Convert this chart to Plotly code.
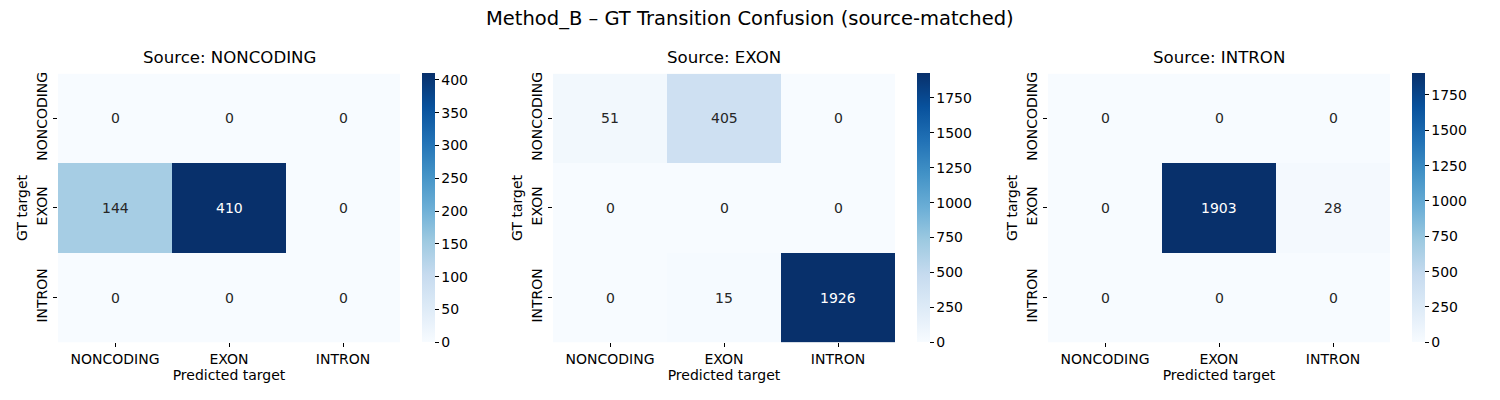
import plotly.graph_objects as go

labels = ["NONCODING", "EXON", "INTRON"]
sources = ["NONCODING", "EXON", "INTRON"]
mat_noncoding = [[0, 0, 0], [144, 410, 0], [0, 0, 0]]
mat_exon = [[51, 405, 0], [0, 0, 0], [0, 15, 1926]]
mat_intron = [[0, 0, 0], [0, 1903, 28], [0, 0, 0]]
matrices = [mat_noncoding, mat_exon, mat_intron]
cbar_dticks = [50, 250, 250]
title = "Method_B – GT Transition Confusion (source-matched)"

W, H = 1500, 400
blues = ["#f7fbff", "#deebf7", "#c6dbef", "#9ecae1", "#6baed6",
         "#4292c6", "#2171b5", "#08519c", "#08306b"]
cscale = [[i / 8, c] for i, c in enumerate(blues)]

x_doms = [(58, 400), (553, 895), (1048, 1390)]
cb_x = [422, 917, 1412]
y_top, y_bot = 72, 342
ydom = [(H - y_bot) / H, (H - y_top) / H]

FONT = "DejaVu Sans"
fig = go.Figure()
annotations = []


def lum(hexc):
    r, g, b = [int(hexc[i:i + 2], 16) / 255 for i in (1, 3, 5)]
    f = lambda c: c / 12.92 if c <= 0.03928 else ((c + 0.055) / 1.055) ** 2.4
    return 0.2126 * f(r) + 0.7152 * f(g) + 0.0722 * f(b)


def interp_color(t):
    t = max(0, min(1, t)) * 8
    i = min(int(t), 7)
    fr = t - i
    a = [int(blues[i][k:k + 2], 16) for k in (1, 3, 5)]
    b = [int(blues[i + 1][k:k + 2], 16) for k in (1, 3, 5)]
    c = [round(a[j] + (b[j] - a[j]) * fr) for j in range(3)]
    return "#%02x%02x%02x" % tuple(c)


for k, (mat, src) in enumerate(zip(matrices, sources)):
    xa = "x" if k == 0 else f"x{k+1}"
    ya = "y" if k == 0 else f"y{k+1}"
    zmax = max(max(r) for r in mat)
    fig.add_trace(go.Heatmap(
        z=mat, x=labels, y=labels, xaxis=xa, yaxis=ya,
        colorscale=cscale, zmin=0, zmax=zmax, xgap=0, ygap=0,
        hoverinfo="skip",
        colorbar=dict(
            x=cb_x[k] / W, xanchor="left", xref="paper", xpad=0, ypad=0,
            y=ydom[0], yanchor="bottom", len=ydom[1] - ydom[0], lenmode="fraction",
            thickness=13, thicknessmode="pixels", outlinewidth=0,
            ticks="outside", ticklen=4, tickcolor="#000", tickwidth=1,
            tick0=0, dtick=cbar_dticks[k],
            tickfont=dict(family=FONT, size=14, color="#000"),
        ),
    ))
    for i, row_lab in enumerate(labels):
        for j, col_lab in enumerate(labels):
            v = mat[i][j]
            col = interp_color(v / zmax)
            tc = "#262626" if lum(col) > 0.408 else "#ffffff"
            annotations.append(dict(
                x=col_lab, y=row_lab, xref=xa, yref=ya, text=str(v),
                showarrow=False, font=dict(family=FONT, size=14, color=tc)))
    x0, x1 = x_doms[k]
    axkey = "xaxis" if k == 0 else f"xaxis{k+1}"
    aykey = "yaxis" if k == 0 else f"yaxis{k+1}"
    fig.update_layout(**{
        axkey: dict(domain=[x0 / W, x1 / W], anchor=ya, showgrid=False, zeroline=False,
                    ticks="outside", ticklen=4, tickcolor="#000", showline=False,
                    tickfont=dict(family=FONT, size=14, color="#000"),
                    title=dict(text="Predicted target", standoff=4,
                               font=dict(family=FONT, size=14, color="#000"))),
        aykey: dict(domain=ydom, anchor=xa, showgrid=False, zeroline=False,
                    autorange="reversed", tickangle=-90,
                    ticks="outside", ticklen=4, tickcolor="#000", showline=False,
                    tickfont=dict(family=FONT, size=14, color="#000"),
                    title=dict(text="GT target", standoff=3,
                               font=dict(family=FONT, size=14, color="#000"))),
    })
    annotations.append(dict(
        x=(x0 + x1) / 2 / W, y=ydom[1], xref="paper", yref="paper", yshift=5,
        xanchor="center", yanchor="bottom", text=f"Source: {src}", showarrow=False,
        font=dict(family=FONT, size=16.6, color="#000")))

annotations.append(dict(
    x=0.5, y=(H - 17) / H, xref="paper", yref="paper", xanchor="center",
    yanchor="middle", text=title, showarrow=False,
    font=dict(family=FONT, size=19.5, color="#000")))

fig.update_layout(
    width=W, height=H, margin=dict(l=0, r=0, t=0, b=0),
    paper_bgcolor="white", plot_bgcolor="white",
    annotations=annotations, showlegend=False,
    font=dict(family=FONT, color="#000"),
)
fig.write_html("out.html")
